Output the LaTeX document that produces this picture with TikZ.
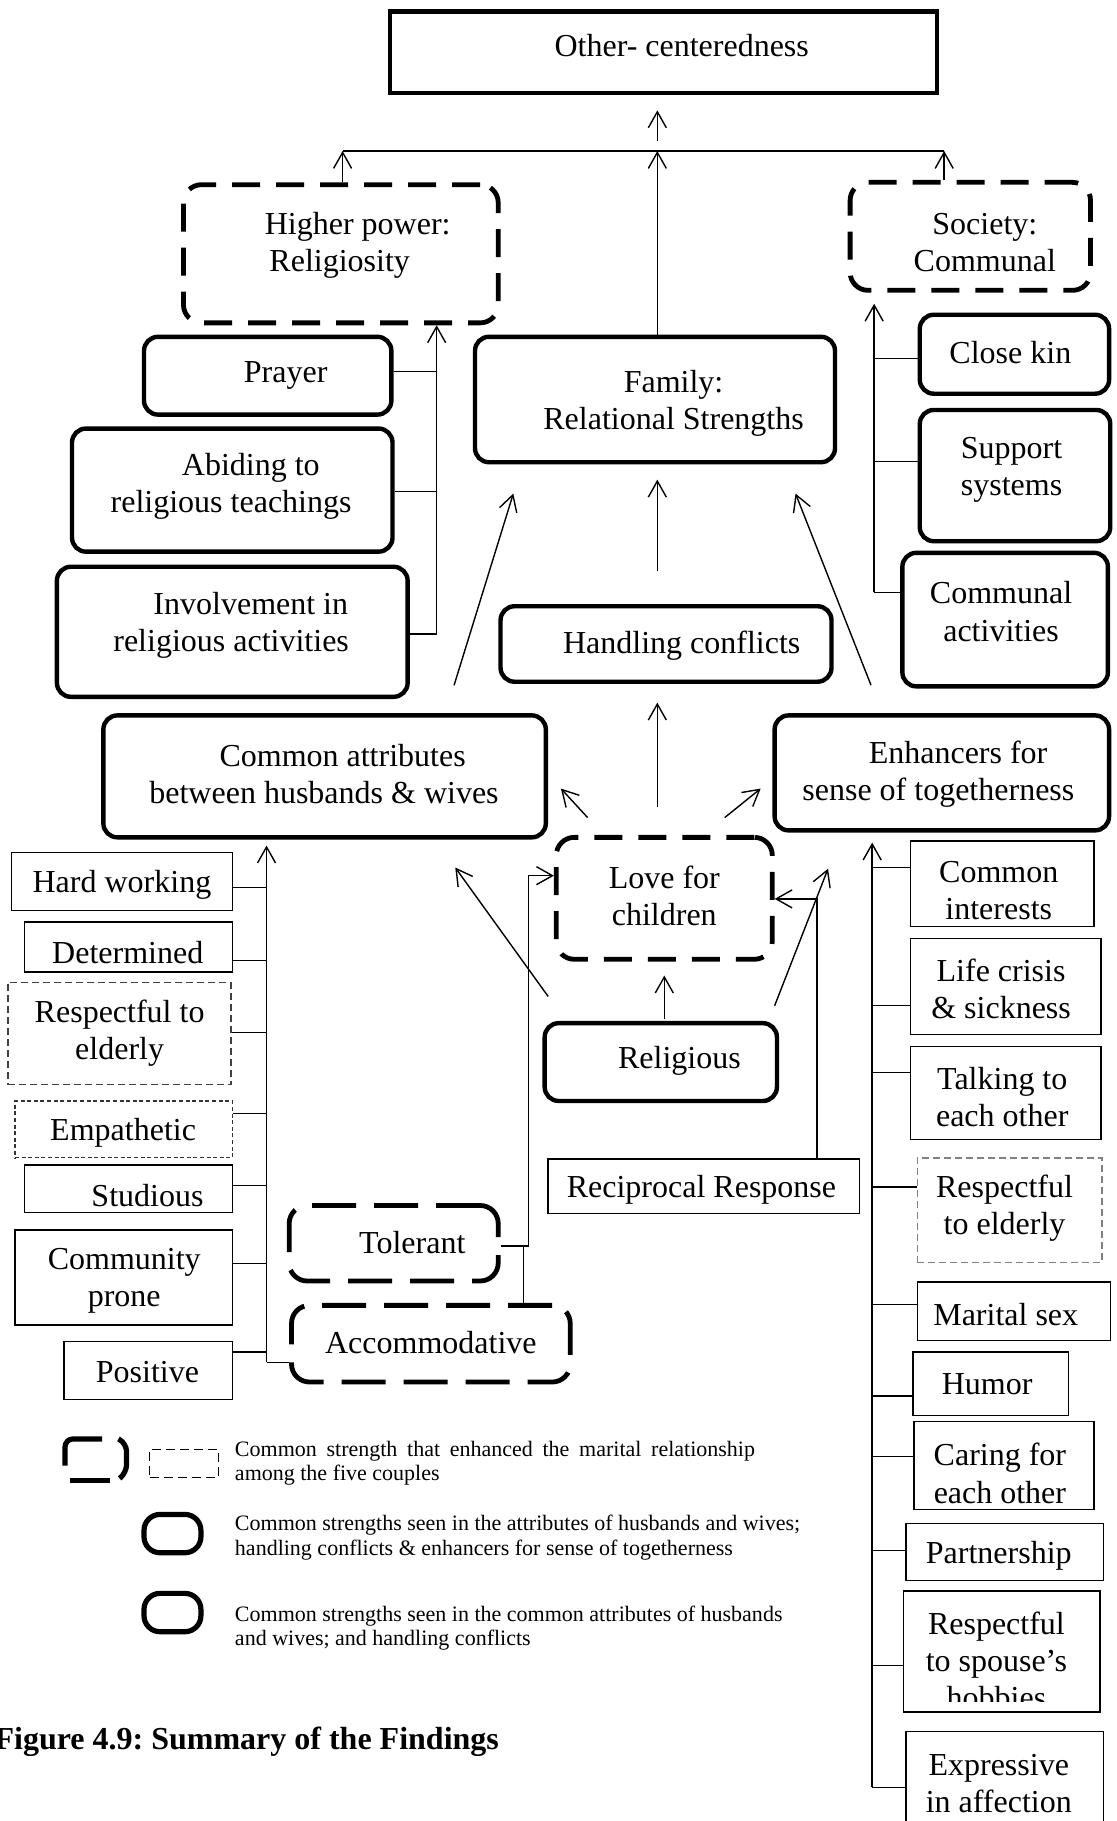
\documentclass[tikz,border=0pt]{standalone}
\usepackage{fontspec}
\setmainfont{Liberation Serif}
\usetikzlibrary{arrows.meta,fit}
% box from corner (x1,y1) to (x2,y2)
\newcommand\bx[6]{\node[#1, fit={(#3,#4) (#5,#6)}] (#2) {};}
\frenchspacing
\begin{document}
\begin{tikzpicture}[x=0.58065pt,y=-0.58065pt,
  lbl/.style={font=\fontsize{16}{18.6}\selectfont, align=center, inner sep=0pt, yshift=-1.5pt},
  note/.style={font=\fontsize{11}{12.2}\selectfont, inner sep=0pt, anchor=base west},
  framebox/.style={draw, line width=2.2pt, inner sep=0pt},
  hard/.style={draw, line width=2.2pt, rounded corners=7pt, inner sep=0pt},
  dashbox/.style={draw, line width=2.4pt, rounded corners=9pt, dash pattern=on 14pt off 8pt, inner sep=0pt},
  longdash/.style={dashbox, dash pattern=on 22pt off 9pt},
  plain/.style={draw, line width=0.7pt, inner sep=0pt},
  greydash/.style={draw=black!75, line width=0.7pt, dash pattern=on 3.5pt off 2pt, inner sep=0pt},
  lightdash/.style={draw=black!50, line width=0.7pt, dash pattern=on 3.5pt off 2pt, inner sep=0pt},
  dotbox/.style={draw=black!80, line width=0.6pt, dash pattern=on 2pt off 1.3pt, inner sep=0pt},
  conn/.style={line width=0.7pt},
  arr/.style={conn, -{Straight Barb[length=8pt,width=9pt]}},
]
\useasboundingbox (0,0) rectangle (961,1568);
\clip (0,0) rectangle (961,1568);

% ---------- boxes ----------
\bx{framebox}{oc}{336}{10}{807}{80}
\bx{dashbox}{hp}{158}{159}{429}{278}
\bx{dashbox}{soc}{732}{157}{939}{250}
\bx{hard}{pray}{124}{290}{337}{357}
\bx{hard}{abide}{62}{369}{338}{475}
\bx{hard}{invol}{49}{488}{351}{600}
\bx{hard}{fam}{409}{290}{719}{398}
\bx{hard}{kin}{792}{271}{955}{339}
\bx{hard}{supp}{792}{353}{956}{466}
\bx{hard}{cact}{777}{476}{954}{591}
\bx{hard}{hc}{431}{522}{716}{587}
\bx{hard}{ca}{89}{616}{470}{721}
\bx{hard}{enh}{667}{616}{955}{715}
\bx{dashbox}{love}{479}{721}{665}{826}
\bx{hard}{rel}{469}{881}{669}{948}
\bx{plain}{rec}{472}{998}{740}{1045}
\bx{longdash}{tol}{249}{1038}{429}{1103}
\bx{longdash}{acc}{251}{1124}{491}{1190}
% attributes column
\bx{plain}{hw}{10}{734}{200}{784}
\bx{plain}{det}{21}{794}{200}{837}
\bx{greydash}{resa}{7}{846}{199}{934}
\bx{dotbox}{emp}{13}{948}{200}{997}
\bx{plain}{stud}{21}{1003}{200}{1044}
\bx{plain}{comm}{13}{1059}{200}{1141}
\bx{plain}{pos}{55}{1155}{200}{1205}
% enhancers column
\bx{plain}{ci}{784}{724}{942}{798}
\bx{plain}{lc}{784}{808}{948}{891}
\bx{plain}{talk}{784}{901}{948}{981}
\bx{lightdash}{resb}{790}{997}{949}{1087}
\bx{plain}{ms}{790}{1104}{956}{1154}
\bx{plain}{hum}{786}{1164}{920}{1219}
\bx{plain}{care}{787}{1224}{942}{1300}
\bx{plain}{part}{780}{1312}{950}{1361}
\bx{plain}{hob}{778}{1370}{947}{1474}
\bx{plain}{expr}{780}{1491}{950}{1600}

% ---------- labels ----------
\node[lbl] (t-oc) at (587,37) {Other- centeredness};
\node[lbl] (t-hp) at (308,209) {Higher power:\\Religiosity\hspace*{18pt}};
\node[lbl] (t-soc) at (848,206) {Society:\\Communal};
\node[lbl] (t-pray) at (246,321) {Prayer};
\node[lbl] (t-abide) at (199,416) {\hspace*{19.7pt}Abiding to\\religious teachings};
\node[lbl] (t-invol) at (199,536) {\hspace*{19.7pt}Involvement in\\religious activities};
\node[lbl] (t-fam) at (580,345) {Family:\\Relational Strengths};
\node[lbl] (t-kin) at (870,301) {Close kin};
\node[lbl] (t-supp) at (871,402) {Support\\systems};
\node[lbl] (t-cact) at (862,524) {Communal\\activities};
\node[lbl] (t-hc) at (587,553) {Handling conflicts};
\node[lbl] (t-ca) at (279,664) {\hspace*{18.6pt}Common attributes\\between husbands \& wives};
\node[lbl] (t-enh) at (808,664) {\hspace*{19.7pt}Enhancers for\\sense of togetherness};
\node[lbl] (t-love) at (572,769) {Love for\\children};
\node[lbl] (t-rel) at (585,911) {Religious};
\node[lbl] (t-rec) at (604,1022) {Reciprocal Response};
\node[lbl] (t-tol) at (355,1067) {Tolerant};
\node[lbl] (t-acc) at (371,1153) {Accommodative};
\node[lbl] (t-hw) at (105,759) {Hard working};
\node[lbl] (t-det) at (110,818) {Determined};
\node[lbl] (t-resa) at (103,887) {Respectful to\\elderly};
\node[lbl] (t-emp) at (106,973) {Empathetic};
\node[lbl] (t-stud) at (127,1027) {Studious};
\node[lbl] (t-comm) at (107,1100) {Community\\prone};
\node[lbl] (t-pos) at (127,1179) {Positive};
\node[lbl] (t-ci) at (860,764) {Common\\interests};
\node[lbl] (t-lc) at (862,849) {Life crisis\\\& sickness};
\node[lbl] (t-talk) at (863,942) {Talking to\\each other};
\node[lbl] (t-resb) at (865,1038) {Respectful\\to elderly};
\node[lbl] (t-ms) at (866,1129) {Marital sex};
\node[lbl] (t-hum) at (850,1189) {Humor};
\node[lbl] (t-care) at (861,1266) {Caring for\\each other};
\node[lbl] (t-part) at (860,1337) {Partnership};
\begin{scope}
  \clip (778,1370) rectangle (947,1465);
  \node[lbl] (t-hob) at (858,1427) {Respectful\\to spouse’s\\hobbies};
\end{scope}
\node[lbl] (t-expr) at (860,1533) {Expressive\\in affection};

% ---------- connectors: top level ----------
\coordinate (hub) at (566,130);
\coordinate (barL) at (295,130);
\coordinate (barR) at (813,130);
\coordinate (hubup) at (566,121);
\coordinate (octip) at (566,95);
\draw[conn] (barL) -- (barR);
\draw[arr] (hubup) -- (octip);
\draw[arr] (hp.north -| barL) -- (barL);
\draw[arr] (fam.north -| hub) -- (hub);
\draw[arr] (soc.north -| barR) -- (barR);

% religiosity bracket
\coordinate (rb) at (376,546);
\draw[arr] (rb) -- (hp.south -| rb);
\draw[conn] (pray.east |- 0,320) -- (rb |- 0,320);
\draw[conn] (abide.east |- 0,423) -- (rb |- 0,423);
\draw[conn] (invol.east |- rb) -- (rb);

% society bracket
\coordinate (sb) at (752.7,510);
\draw[arr, shorten >=5.5pt] (sb) -- (soc.south -| sb);
\draw[conn] (kin.west |- 0,308.5) -- (sb |- 0,308.5);
\draw[conn] (supp.west |- 0,397.6) -- (sb |- 0,397.6);
\draw[conn] (cact.west |- sb) -- (sb);

% into family
\coordinate (fa1) at (391,590); \coordinate (fa1t) at (442,425);
\coordinate (fa2) at (566,492); \coordinate (fa2t) at (566,413);
\coordinate (fa3) at (750,590); \coordinate (fa3t) at (685,425);
\draw[arr] (fa1) -- (fa1t);
\draw[arr] (fa2) -- (fa2t);
\draw[arr] (fa3) -- (fa3t);

% out of love for children
\coordinate (lv1) at (566,695); \coordinate (lv1t) at (566,605);
\coordinate (lv2) at (506,704); \coordinate (lv2t) at (483,679);
\coordinate (lv3) at (624,704); \coordinate (lv3t) at (655,679);
\draw[arr] (lv1) -- (lv1t);
\draw[arr] (lv2) -- (lv2t);
\draw[arr] (lv3) -- (lv3t);

% out of religious
\coordinate (rl1) at (572,877); \coordinate (rl1t) at (572,840);
\coordinate (rl2) at (472,858); \coordinate (rl2t) at (392,747);
\coordinate (rl3) at (667,866); \coordinate (rl3t) at (713,748);
\draw[arr] (rl1) -- (rl1t);
\draw[arr] (rl2) -- (rl2t);
\draw[arr] (rl3) -- (rl3t);

% reciprocal response to love for children
\coordinate (rcup) at (703.6,774);
\draw[arr] (rec.north -| rcup) -- (rcup) -- (love.east |- rcup);

% tolerant / accommodative to love for children
\coordinate (tj) at (455,1073);
\coordinate (tk) at (455,754);
\coordinate (aj) at (451,1073);
\draw[arr] (tol.east |- tj) -- (tj) -- (tk) -- (love.west |- tk);
\draw[conn] (acc.north -| aj) -- (aj);

% attributes bracket
\coordinate (cab) at (229.5,1173);
\draw[arr, shorten >=3pt] (cab) -- (ca.south -| cab);
\draw[conn] (hw.east |- 0,764) -- (cab |- 0,764);
\draw[conn] (det.east |- 0,827) -- (cab |- 0,827);
\draw[conn] (resa.east |- 0,889) -- (cab |- 0,889);
\draw[conn] (emp.east |- 0,959) -- (cab |- 0,959);
\draw[conn] (stud.east |- 0,1021) -- (cab |- 0,1021);
\draw[conn] (comm.east |- 0,1088) -- (cab |- 0,1088);
\draw[conn] (pos.east |- 0,1164) -- (cab |- 0,1164);
\draw[conn] (cab) -- (acc.west |- cab);

% enhancers bracket
\coordinate (enb) at (751,1539);
\draw[arr, shorten >=5pt] (enb) -- (enh.south -| enb);
\draw[conn] (enb |- 0,747) -- (ci.west |- 0,747);
\draw[conn] (enb |- 0,866) -- (lc.west |- 0,866);
\draw[conn] (enb |- 0,923.5) -- (talk.west |- 0,923.5);
\draw[conn] (enb |- 0,1022) -- (resb.west |- 0,1022);
\draw[conn] (enb |- 0,1123) -- (ms.west |- 0,1123);
\draw[conn] (enb |- 0,1202) -- (hum.west |- 0,1202);
\draw[conn] (enb |- 0,1254) -- (care.west |- 0,1254);
\draw[conn] (enb |- 0,1335) -- (part.west |- 0,1335);
\draw[conn] (enb |- 0,1434) -- (hob.west |- 0,1434);
\draw[conn] (enb) -- (expr.west |- enb);

% ---------- key ----------
\draw[line width=2.6pt, rounded corners=4pt] (88,1239) -- (56,1239) -- (56,1262);
\draw[line width=2.6pt] (60,1275) -- (95,1275);
\draw[line width=2.6pt, rounded corners=4pt] (102,1239) -- (109,1243) -- (109,1268) -- (103,1273);
\bx{draw, line width=0.6pt, dash pattern=on 4.5pt off 2.5pt, inner sep=0pt}{lgd}{129}{1248}{188}{1272}
\bx{hard, line width=2.6pt, rounded corners=8pt}{lga}{124}{1304}{173}{1337}
\bx{hard, line width=2.6pt, rounded corners=8pt}{lgb}{124}{1372}{173}{1405}
\node[note] (k1a) at (202,1254) {\makebox[260pt][s]{Common strength that enhanced the marital relationship}};
\node[note] (k1b) at (202,1275) {among the five couples};
\node[note] (k2a) at (202,1318) {Common strengths seen in the attributes of husbands and wives;};
\node[note] (k2b) at (202,1339) {handling conflicts \& enhancers for sense of togetherness};
\node[note] (k3a) at (202,1396) {Common strengths seen in the common attributes of husbands};
\node[note] (k3b) at (202,1417) {and wives; and handling conflicts};
\node[anchor=base west, inner sep=0pt, font=\fontsize{16}{18.6}\selectfont\bfseries] (cap) at (-5,1506) {Figure 4.9: Summary of the Findings};
\end{tikzpicture}
\end{document}
